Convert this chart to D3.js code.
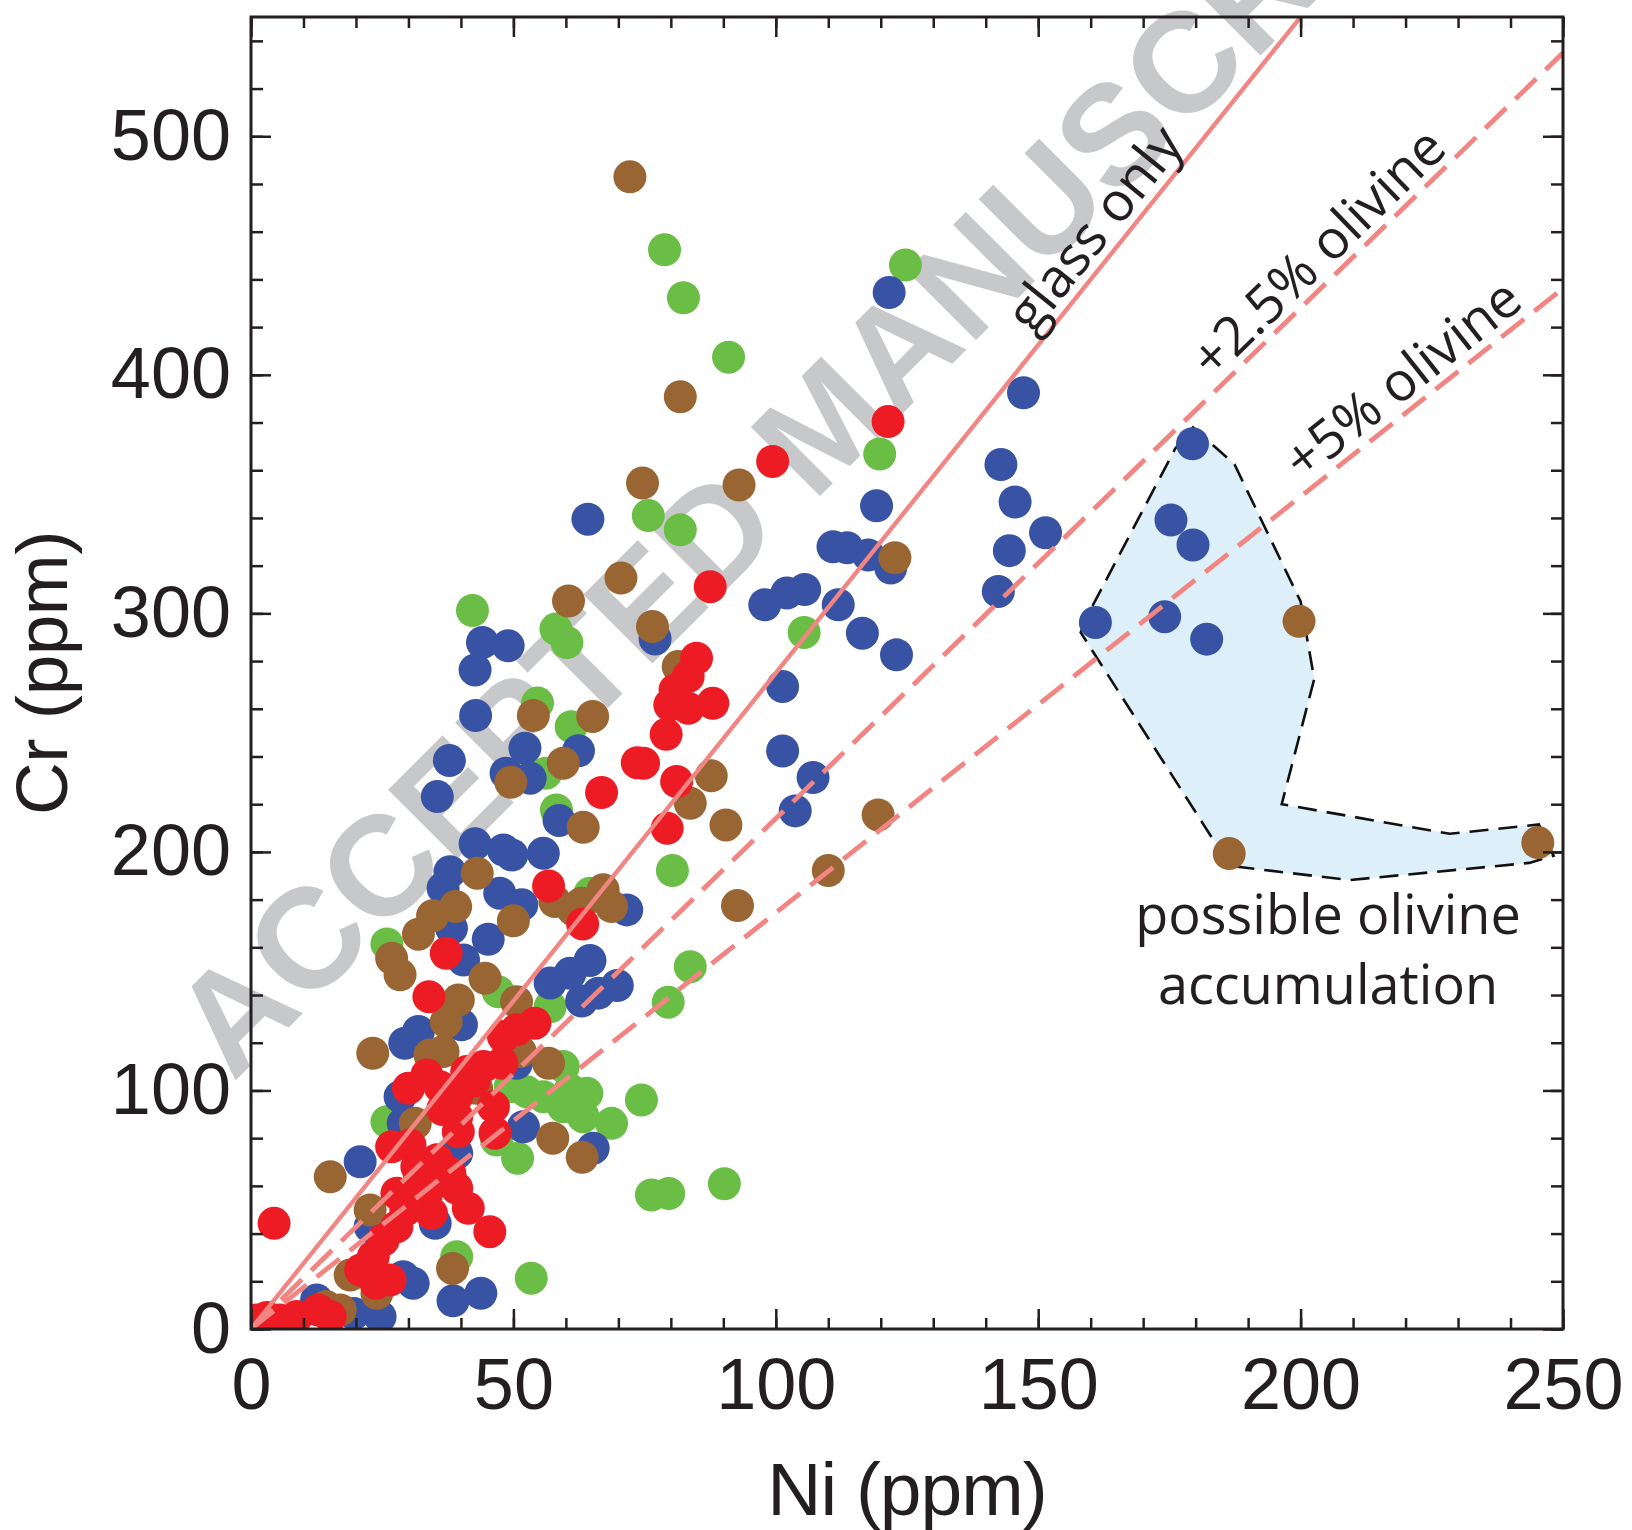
<!DOCTYPE html>
<html>
<head>
<meta charset="utf-8">
<script src="https://cdn.jsdelivr.net/npm/d3@7"></script>
<style>
  html, body { margin: 0; padding: 0; background: #fff; }
  svg { display: block; }
</style>
</head>
<body>
<svg id="chart" width="1632" height="1530"></svg>
<script>
// ---- Data: [Ni, Cr] in ppm for each sample group ----
const greenPts = [
  [78.8,452.4],[82.4,432.3],[91.0,407.4],[124.7,446.0],[119.8,366.8],[75.7,341.0],[81.8,335.0],
  [42.2,301.2],[58.1,293.4],[60.2,287.8],[105.4,292.0],[54.6,262.4],[61.0,252.5],[56.2,233.0],
  [58.2,217.6],[80.3,192.2],[65.5,181.3],[64.6,182.7],[83.7,151.9],[79.5,137.0],[25.9,161.4],
  [47.1,141.4],[57.0,135.1],[59.5,110.0],[49.4,101.6],[52.5,99.5],[55.7,97.4],[60.8,100.2],
  [64.0,98.8],[63.3,89.0],[59.5,93.2],[68.7,86.2],[74.4,96.0],[46.8,79.2],[50.8,71.6],
  [25.9,86.9],[39.2,30.3],[53.4,21.3],[76.3,56.2],[79.6,56.8],[90.2,60.9]
];
const bluePts = [
  [121.6,434.5],[147.2,392.5],[142.9,362.4],[145.6,346.7],[151.4,333.8],[144.5,326.3],[142.4,309.2],
  [119.2,345.1],[64.2,339.5],[110.9,327.9],[113.6,327.5],[117.6,324.5],[121.9,319.0],[123.0,282.6],
  [116.5,291.7],[97.9,303.6],[102.1,308.5],[105.5,310.0],[111.9,303.6],[101.3,269.3],[101.3,242.3],
  [107.1,231.2],[103.7,217.2],[44.1,287.8],[49.0,286.4],[42.7,276.3],[42.8,257.2],[77.0,289.3],
  [62.4,242.4],[52.2,243.5],[48.6,233.0],[53.2,230.9],[37.8,238.3],[35.5,223.2],[58.7,213.2],
  [42.7,203.4],[48.1,200.8],[49.7,198.7],[55.7,199.4],[37.9,191.7],[36.6,184.8],[47.4,182.7],
  [51.6,177.8],[71.6,175.7],[38.2,168.0],[45.2,163.4],[40.5,154.7],[64.6,154.5],[60.8,149.1],
  [69.8,144.0],[57.0,145.0],[63.0,137.5],[66.2,140.8],[40.1,127.5],[31.9,124.7],[29.3,119.8],
  [50.6,111.4],[28.4,97.4],[51.9,84.8],[65.2,75.8],[29.0,86.2],[20.8,70.1],[39.2,73.7],
  [22.7,42.9],[35.1,44.3],[30.9,19.2],[29.0,21.9],[38.5,11.8],[43.8,15.0],[24.6,5.2],
  [12.5,12.2],[19.6,6.5],
  [179.4,371.1],[175.3,339.1],[179.5,328.7],[160.9,296.2],[174.1,298.6],[182.1,289.2]
];
const brownPts = [
  [72.2,483.0],[81.8,390.8],[74.6,354.6],[93.0,353.8],[70.5,314.8],[60.5,305.2],[76.5,294.5],
  [122.7,323.3],[81.4,277.7],[53.8,257.2],[65.1,256.8],[59.5,237.2],[49.5,229.2],[87.7,231.9],
  [83.7,220.4],[90.5,211.3],[119.5,215.5],[110.0,192.2],[92.7,177.5],[63.3,210.3],[43.1,191.1],
  [50.0,171.1],[57.9,179.2],[67.1,184.1],[68.7,177.1],[63.0,178.5],[61.4,175.7],[39.0,177.1],
  [34.6,173.2],[31.9,165.5],[26.8,155.4],[28.4,148.5],[44.6,147.0],[39.5,137.9],[50.6,137.2],
  [37.2,128.8],[23.2,115.6],[34.1,114.9],[36.6,116.3],[51.3,116.3],[56.7,111.4],[43.0,100.9],
  [31.3,86.2],[57.5,80.0],[63.1,72.0],[15.1,63.8],[22.7,49.9],[38.4,25.4],[18.9,22.6],
  [24.0,15.0],[17.0,8.0],[14.3,9.4],
  [199.7,296.7],[186.4,199.3],[245.2,203.9]
];
const redPts = [
  [121.4,380.4],[99.4,363.7],[87.5,311.2],[84.9,281.2],[83.3,273.5],[80.8,267.9],[79.8,261.6],
  [83.3,260.2],[88.0,262.3],[79.1,249.3],[74.8,237.2],[73.6,237.4],[66.8,224.9],[81.1,229.5],
  [79.3,209.9],[56.7,185.7],[63.2,169.8],[37.2,157.5],[33.9,139.3],[54.1,128.2],[50.6,125.4],
  [48.1,122.6],[47.8,111.4],[44.3,110.0],[41.1,107.9],[33.5,106.5],[30.0,100.9],[36.0,101.6],
  [39.2,97.4],[46.2,93.2],[39.2,89.0],[39.5,82.7],[46.5,82.1],[26.8,76.4],[30.3,77.1],
  [31.6,68.0],[35.4,70.9],[37.9,65.3],[27.8,56.9],[33.5,56.9],[39.2,59.0],[41.4,50.6],
  [45.5,40.8],[34.4,48.5],[27.8,42.9],[25.2,37.3],[23.3,30.3],[22.0,24.7],[26.5,20.5],
  [20.9,24.7],[23.8,19.2],[4.4,44.3],[12.8,8.0],[15.1,5.2],[8.7,5.2],[5.5,3.8],[1.1,3.8],[3.0,4.8],
  [42.5,104.0],[36.5,92.0],[32.0,62.0],[29.5,50.0]
];

// Reference lines through the origin: Cr = slope * Ni
const lineNames  = ["glass only", "+2.5% olivine", "+5% olivine"];
const lineSlopes = [2.75, 2.14, 1.745];

// Outline of the field of possible olivine accumulation [Ni, Cr]
const accumField = [
  [158.1,292.0],[160.2,302.5],[176.1,369.0],[179.5,378.0],[187.4,362.5],[200.0,305.0],
  [202.6,272.5],[196.4,220.0],[228.4,207.6],[245.4,211.5],[248.2,198.4],[243.6,195.4],
  [209.3,188.2],[187.0,194.0],[182.8,207.0]
];

// Axis ticks
const xMajorTicks = [0, 50, 100, 150, 200, 250];
const yMajorTicks = [0, 100, 200, 300, 400, 500];
const xMinorTicks = d3.range(0, 251, 10);
const yMinorTicks = d3.range(0, 551, 20);

// ---- Layout ----
const plot = { left: 251, right: 1563, top: 17, bottom: 1329 };
const ink = "#231f20";
const lineColor = "#f28482";
const seriesColors = { green: "#6abd45", blue: "#3953a4", brown: "#996633", red: "#ed1c24" };
const dotR = 16.5;

const x = d3.scaleLinear().domain([0, 250]).range([plot.left, plot.right]);
const y = d3.scaleLinear().domain([0, 550]).range([plot.bottom, plot.top]);

const svg = d3.select("#chart");

svg.append("defs").append("clipPath").attr("id", "plotClip")
  .append("rect")
  .attr("x", plot.left).attr("y", plot.top)
  .attr("width", plot.right - plot.left).attr("height", plot.bottom - plot.top);

// Watermark text running diagonally behind the data
svg.append("text")
  .attr("transform", "translate(198,1048) rotate(-45)")
  .attr("dominant-baseline", "central")
  .attr("font-family", "'Liberation Sans', Arial, sans-serif")
  .attr("font-weight", "bold")
  .attr("font-size", 142)
  .attr("fill", "#c7c8ca")
  .text("ACCEPTED MANUSCRIPT");

const plotG = svg.append("g").attr("clip-path", "url(#plotClip)");

// Accumulation field
plotG.append("path")
  .datum(accumField)
  .attr("d", d3.line().x(d => x(d[0])).y(d => y(d[1])).curve(d3.curveLinearClosed))
  .attr("fill", "#ddf0fa")
  .attr("stroke", "#111")
  .attr("stroke-width", 2.6)
  .attr("stroke-dasharray", "19 10");

// Data points, drawn group by group
[["green", greenPts], ["blue", bluePts], ["brown", brownPts], ["red", redPts]].forEach(([key, pts]) => {
  plotG.append("g").selectAll("circle").data(pts).join("circle")
    .attr("cx", d => x(d[0]))
    .attr("cy", d => y(d[1]))
    .attr("r", dotR)
    .attr("fill", seriesColors[key]);
});

// Reference lines
lineSlopes.forEach((s, i) => {
  const xEnd = Math.min(250, 550 / s);
  plotG.append("line")
    .attr("x1", x(0)).attr("y1", y(0))
    .attr("x2", x(xEnd)).attr("y2", y(s * xEnd))
    .attr("stroke", lineColor)
    .attr("stroke-width", i === 0 ? 4.3 : 4.8)
    .attr("stroke-dasharray", i === 0 ? null : "29 13");
});

// Line labels placed along each line
const labelAt = [165.0, 207.0, 222.8];
const labelOffset = [10, 9, 10];
lineNames.forEach((name, i) => {
  const s = lineSlopes[i];
  const xd = labelAt[i];
  const ang = Math.atan2(y(s) - y(0), x(1) - x(0)) * 180 / Math.PI;
  svg.append("text")
    .attr("transform", `translate(${x(xd)},${y(s * xd)}) rotate(${ang})`)
    .attr("y", -labelOffset[i])
    .attr("text-anchor", "middle")
    .attr("font-family", "'Open Sans', sans-serif")
    .attr("font-size", 54)
    .attr("fill", ink)
    .text(name);
});

// Field caption
const caption = svg.append("text")
  .attr("text-anchor", "middle")
  .attr("font-family", "'Open Sans', sans-serif")
  .attr("font-size", 54)
  .attr("fill", ink);
caption.append("tspan").attr("x", 1328).attr("y", 934).text("possible olivine");
caption.append("tspan").attr("x", 1328).attr("y", 1004).text("accumulation");

// ---- Axes (ticks point inward on all four sides) ----
const axisFont = "'Liberation Sans', Arial, Helvetica, sans-serif";
function styleAxis(g) {
  g.select(".domain").remove();
  g.selectAll(".tick line").attr("stroke", ink).attr("stroke-width", 2.5);
  g.selectAll("text").attr("font-family", axisFont).attr("font-size", 72).attr("fill", ink);
}

svg.append("g").attr("transform", `translate(0,${plot.bottom})`)
  .call(d3.axisBottom(x).tickValues(xMinorTicks).tickSize(-11).tickFormat(""))
  .call(styleAxis);
svg.append("g").attr("transform", `translate(0,${plot.bottom})`)
  .call(d3.axisBottom(x).tickValues(xMajorTicks).tickSize(-20).tickPadding(29).tickFormat(d3.format("d")))
  .call(styleAxis);

svg.append("g").attr("transform", `translate(0,${plot.top})`)
  .call(d3.axisTop(x).tickValues(xMinorTicks).tickSize(-11).tickFormat(""))
  .call(styleAxis);
svg.append("g").attr("transform", `translate(0,${plot.top})`)
  .call(d3.axisTop(x).tickValues(xMajorTicks).tickSize(-20).tickFormat(""))
  .call(styleAxis);

svg.append("g").attr("transform", `translate(${plot.left},0)`)
  .call(d3.axisLeft(y).tickValues(yMinorTicks).tickSize(-12).tickFormat(""))
  .call(styleAxis);
svg.append("g").attr("transform", `translate(${plot.left},0)`)
  .call(d3.axisLeft(y).tickValues(yMajorTicks).tickSize(-20).tickPadding(20).tickFormat(d3.format("d")))
  .call(styleAxis);

svg.append("g").attr("transform", `translate(${plot.right},0)`)
  .call(d3.axisRight(y).tickValues(yMinorTicks).tickSize(-12).tickFormat(""))
  .call(styleAxis);
svg.append("g").attr("transform", `translate(${plot.right},0)`)
  .call(d3.axisRight(y).tickValues(yMajorTicks).tickSize(-20).tickFormat(""))
  .call(styleAxis);

// Frame
svg.append("rect")
  .attr("x", plot.left).attr("y", plot.top)
  .attr("width", plot.right - plot.left).attr("height", plot.bottom - plot.top)
  .attr("fill", "none").attr("stroke", ink).attr("stroke-width", 3);

// Axis titles
svg.append("text")
  .attr("x", (plot.left + plot.right) / 2).attr("y", 1515)
  .attr("text-anchor", "middle")
  .attr("font-family", axisFont).attr("font-size", 75).attr("letter-spacing", -1)
  .attr("fill", ink)
  .text("Ni (ppm)");
svg.append("text")
  .attr("transform", `translate(67,${(plot.top + plot.bottom) / 2}) rotate(-90)`)
  .attr("text-anchor", "middle")
  .attr("font-family", axisFont).attr("font-size", 73).attr("letter-spacing", -0.5)
  .attr("fill", ink)
  .text("Cr (ppm)");
</script>
</body>
</html>
